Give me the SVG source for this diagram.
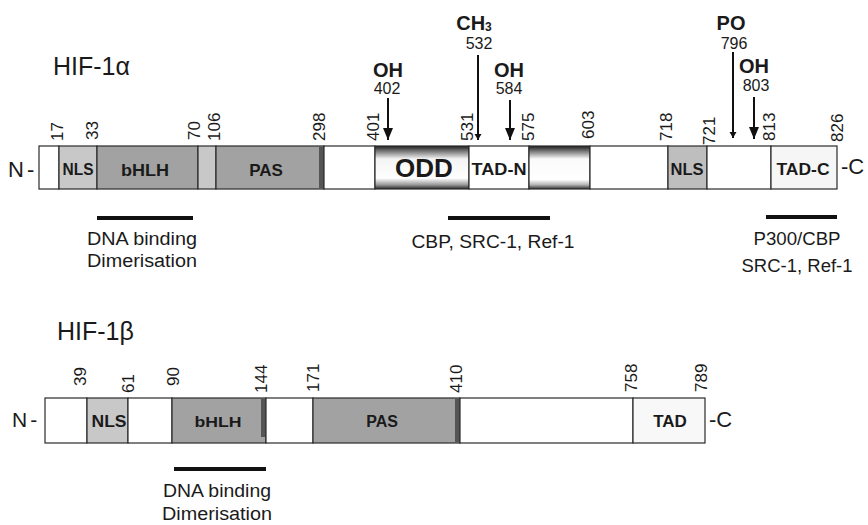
<svg xmlns="http://www.w3.org/2000/svg" width="868" height="525" viewBox="0 0 868 525">
<defs>
<style>
.t{font-family:"Liberation Sans",Arial,sans-serif;fill:#1a1a1a}
.num{font-family:"Liberation Sans",Arial,sans-serif;font-size:17px;fill:#1a1a1a}
.mnum{font-family:"Liberation Sans",Arial,sans-serif;font-size:16px;fill:#1a1a1a;text-anchor:middle}
.lab{font-family:"Liberation Sans",Arial,sans-serif;font-size:18px;fill:#1a1a1a;text-anchor:middle}
.dom{font-family:"Liberation Sans",Arial,sans-serif;font-weight:bold;fill:#1a1a1a;text-anchor:middle}
.mod{font-family:"Liberation Sans",Arial,sans-serif;font-weight:bold;font-size:20px;fill:#1a1a1a;text-anchor:middle}
.seg{stroke:#2a2a2a;stroke-width:1.2}
.white{fill:#ffffff}
.light{fill:#c8c8c8}
.mid{fill:#a2a2a2}
.dark{fill:#555555}
.ibar{stroke:#111;stroke-width:4}
.arr{stroke:#111;stroke-width:2;fill:none}
</style>
<linearGradient id="gODD" x1="0" y1="0" x2="0" y2="1">
<stop offset="0" stop-color="#1e1e1e"/>
<stop offset="0.1" stop-color="#6a6a6a"/>
<stop offset="0.3" stop-color="#f4f4f4"/>
<stop offset="0.75" stop-color="#ffffff"/>
<stop offset="0.9" stop-color="#9a9a9a"/>
<stop offset="1" stop-color="#2a2a2a"/>
</linearGradient>
<linearGradient id="gBox" x1="0" y1="0" x2="0" y2="1">
<stop offset="0" stop-color="#1e1e1e"/>
<stop offset="0.12" stop-color="#777"/>
<stop offset="0.3" stop-color="#fafafa"/>
<stop offset="0.78" stop-color="#ffffff"/>
<stop offset="0.9" stop-color="#b5b5b5"/>
<stop offset="1" stop-color="#333"/>
</linearGradient>
<marker id="ah" markerUnits="userSpaceOnUse" markerWidth="12" markerHeight="14" refX="12" refY="5" orient="auto">
<path d="M0,0 L12,5 L0,10 Z" fill="#111"/>
</marker>
<marker id="ahs" markerUnits="userSpaceOnUse" markerWidth="8" markerHeight="8" refX="6" refY="3.5" orient="auto">
<path d="M0,0 L6,3.5 L0,7 Z" fill="#111"/>
</marker>
</defs>
<rect width="868" height="525" fill="#ffffff"/>

<g id="hif1a">
<text class="t" x="53" y="75" font-size="25">HIF-1α</text>
<text class="t" x="8" y="177" font-size="22" letter-spacing="3">N-</text>
<text class="t" x="841" y="174" font-size="22">-C</text>
</g>

<g id="hif1a-bar">
<rect class="seg white" x="39" y="146" width="20" height="43"/>
<rect class="seg light" x="59" y="146" width="38" height="43"/>
<rect class="seg mid" x="97" y="146" width="101" height="43"/>
<rect class="seg light" x="198" y="146" width="18" height="43"/>
<rect class="seg mid" x="216" y="146" width="108" height="43"/>
<rect class="dark" x="319" y="147" width="5" height="41"/>
<rect class="seg white" x="324" y="146" width="51" height="43"/>
<rect class="seg" fill="url(#gODD)" x="375" y="146" width="94" height="43"/>
<rect class="seg white" x="469" y="146" width="60" height="43"/>
<rect class="seg" fill="url(#gBox)" x="529" y="146" width="61" height="43"/>
<rect class="seg white" x="590" y="146" width="78" height="43"/>
<rect class="seg" fill="#bebebe" x="668" y="146" width="39" height="43"/>
<rect class="seg white" x="707" y="146" width="64" height="43"/>
<rect class="seg" fill="#f6f6f6" x="771" y="146" width="66" height="43"/>
<text class="dom" x="78" y="175" font-size="16" textLength="31" lengthAdjust="spacingAndGlyphs">NLS</text>
<text class="dom" x="145" y="176" font-size="16" textLength="48" lengthAdjust="spacingAndGlyphs">bHLH</text>
<text class="dom" x="266" y="176" font-size="17">PAS</text>
<text class="dom" x="424" y="177" font-size="26">ODD</text>
<text class="dom" x="499" y="175" font-size="16" textLength="55" lengthAdjust="spacingAndGlyphs">TAD-N</text>
<text class="dom" x="687" y="175" font-size="16" textLength="33" lengthAdjust="spacingAndGlyphs">NLS</text>
<text class="dom" x="803" y="175" font-size="16" textLength="53" lengthAdjust="spacingAndGlyphs">TAD-C</text>
</g>

<g id="hif1a-ticks">
<text class="num" transform="translate(63,141) rotate(-90)">17</text>
<text class="num" transform="translate(98,140) rotate(-90)">33</text>
<text class="num" transform="translate(200,140) rotate(-90)">70</text>
<text class="num" transform="translate(220,141) rotate(-90)">106</text>
<text class="num" transform="translate(325,141) rotate(-90)">298</text>
<text class="num" transform="translate(379,141) rotate(-90)">401</text>
<text class="num" transform="translate(473,141) rotate(-90)">531</text>
<text class="num" transform="translate(534,141) rotate(-90)">575</text>
<text class="num" transform="translate(594,139) rotate(-90)">603</text>
<text class="num" transform="translate(672,141) rotate(-90)">718</text>
<text class="num" transform="translate(715,145) rotate(-90)">721</text>
<text class="num" transform="translate(775,141) rotate(-90)">813</text>
<text class="num" transform="translate(843,142) rotate(-90)">826</text>
</g>

<g id="mod-402">
<text class="mod" x="388" y="77">OH</text>
<text class="mnum" x="387" y="94">402</text>
</g>
<g id="mod-532">
<text class="mod" x="474" y="30">CH<tspan font-size="12" dy="1">3</tspan></text>
<text class="mnum" x="479" y="49">532</text>
</g>
<g id="mod-584">
<text class="mod" x="509" y="77">OH</text>
<text class="mnum" x="509" y="94">584</text>
</g>
<g id="mod-796">
<text class="mod" x="731" y="30">PO</text>
<text class="mnum" x="734" y="49">796</text>
</g>
<g id="mod-803">
<text class="mod" x="754" y="73">OH</text>
<text class="mnum" x="756" y="91">803</text>
</g>

<g id="connectors">
<line class="arr" x1="388" y1="98" x2="388" y2="140" marker-end="url(#ah)"/>
<line class="arr" x1="478" y1="55" x2="478" y2="140" marker-end="url(#ahs)"/>
<line class="arr" x1="510" y1="100" x2="510" y2="140" marker-end="url(#ah)"/>
<line class="arr" x1="733" y1="52" x2="733" y2="138" marker-end="url(#ahs)"/>
<line class="arr" x1="754" y1="97" x2="754" y2="139" marker-end="url(#ah)"/>
</g>

<g id="hif1a-interactions">
<line class="ibar" x1="97" y1="218" x2="193" y2="218"/>
<text class="lab" x="142" y="245" textLength="110" lengthAdjust="spacingAndGlyphs">DNA binding</text>
<text class="lab" x="142" y="267" textLength="110" lengthAdjust="spacingAndGlyphs">Dimerisation</text>
<line class="ibar" x1="448" y1="218" x2="550" y2="218"/>
<text class="lab" x="493" y="248" textLength="163" lengthAdjust="spacingAndGlyphs">CBP, SRC-1, Ref-1</text>
<line class="ibar" x1="766" y1="217" x2="837" y2="217"/>
<text class="lab" x="797" y="245" textLength="87" lengthAdjust="spacingAndGlyphs">P300/CBP</text>
<text class="lab" x="797" y="272" textLength="111" lengthAdjust="spacingAndGlyphs">SRC-1, Ref-1</text>
</g>

<g id="hif1b">
<text class="t" x="57" y="340" font-size="25">HIF-1β</text>
<text class="t" x="12" y="427" font-size="21" letter-spacing="3">N-</text>
<text class="t" x="709" y="427" font-size="22">-C</text>
</g>

<g id="hif1b-bar">
<rect class="seg white" x="45" y="398" width="42" height="45"/>
<rect class="seg light" x="87" y="398" width="41" height="45"/>
<rect class="seg white" x="128" y="398" width="44" height="45"/>
<rect class="seg mid" x="172" y="398" width="94" height="45"/>
<rect class="dark" x="261" y="399" width="5" height="38"/>
<rect class="seg white" x="266" y="398" width="47" height="45"/>
<rect class="seg mid" x="313" y="398" width="147" height="45"/>
<rect class="dark" x="455" y="399" width="5" height="43"/>
<rect class="seg white" x="460" y="398" width="173" height="45"/>
<rect class="seg" fill="#f8f8f8" x="633" y="398" width="72" height="45"/>
<text class="dom" x="109" y="427" font-size="16" textLength="35" lengthAdjust="spacingAndGlyphs">NLS</text>
<text class="dom" x="218" y="427" font-size="15" textLength="47" lengthAdjust="spacingAndGlyphs">bHLH</text>
<text class="dom" x="382" y="427" font-size="16">PAS</text>
<text class="dom" x="670" y="427" font-size="17">TAD</text>
</g>

<g id="hif1b-ticks">
<text class="num" transform="translate(86,386) rotate(-90)">39</text>
<text class="num" transform="translate(134,393) rotate(-90)">61</text>
<text class="num" transform="translate(179,386) rotate(-90)">90</text>
<text class="num" transform="translate(267,393) rotate(-90)">144</text>
<text class="num" transform="translate(319,392) rotate(-90)">171</text>
<text class="num" transform="translate(462,393) rotate(-90)">410</text>
<text class="num" transform="translate(637,392) rotate(-90)">758</text>
<text class="num" transform="translate(707,392) rotate(-90)">789</text>
</g>

<g id="hif1b-interactions">
<line class="ibar" x1="174" y1="469" x2="266" y2="469"/>
<text class="lab" x="217" y="497" textLength="108" lengthAdjust="spacingAndGlyphs">DNA binding</text>
<text class="lab" x="217" y="520" textLength="110" lengthAdjust="spacingAndGlyphs">Dimerisation</text>
</g>
</svg>
